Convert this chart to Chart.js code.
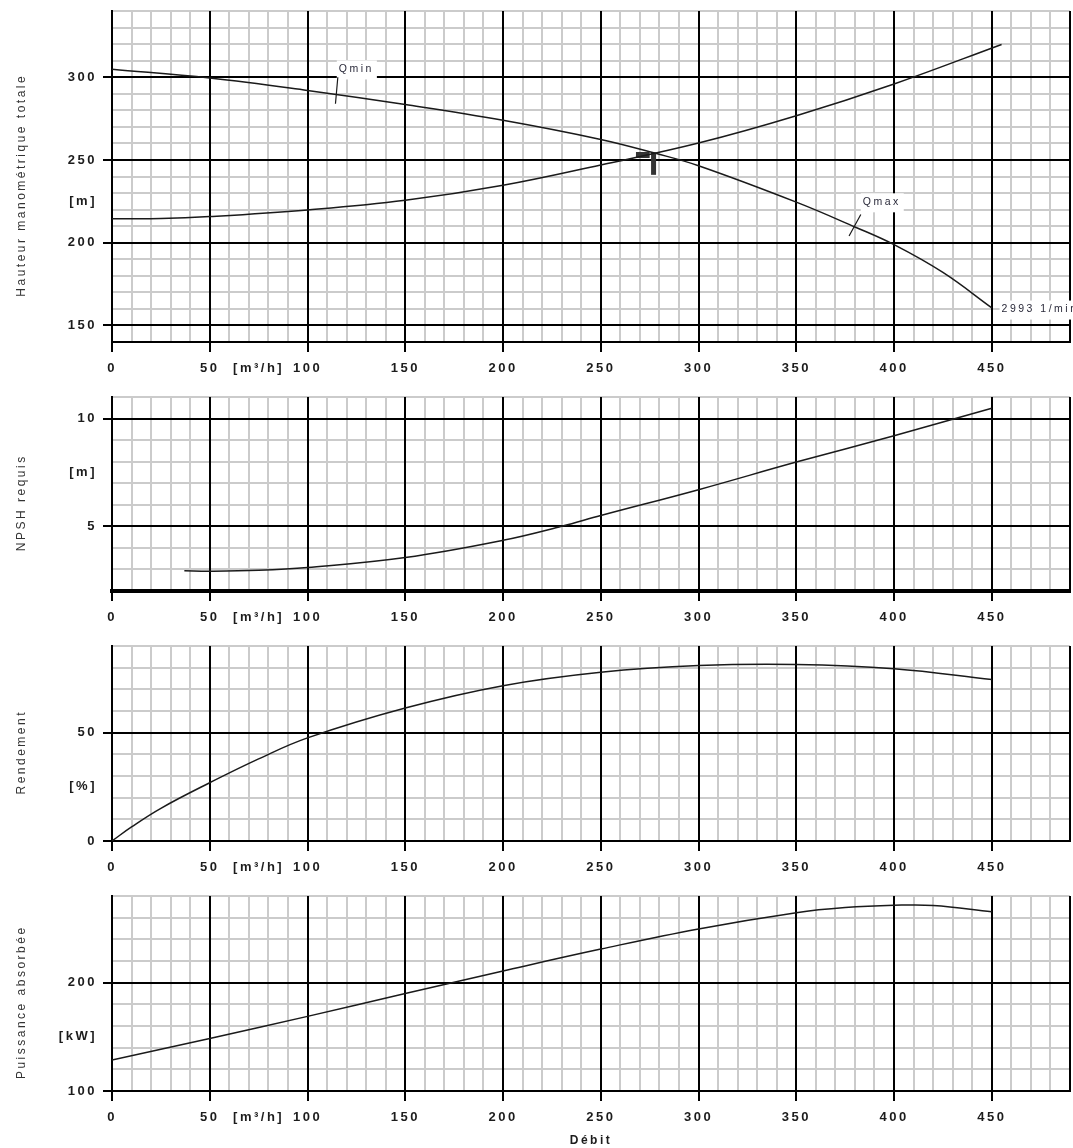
<!DOCTYPE html>
<html>
<head>
<meta charset="utf-8">
<script src="https://cdn.jsdelivr.net/npm/chart.js@4.4.1/dist/chart.umd.min.js"></script>
<style>
    body { margin: 0; background: #fff; }
    #wrap { position: relative; width: 1073px; height: 1148px; }
    canvas { position: absolute; left: 0; }
</style>
</head>
<body>
<div id="wrap">
    <canvas id="hmtChart" width="1073" height="380" style="top:0px"></canvas>
    <canvas id="npshChart" width="1073" height="244" style="top:385px"></canvas>
    <canvas id="effChart" width="1073" height="245" style="top:634px"></canvas>
    <canvas id="powerChart" width="1073" height="264" style="top:884px"></canvas>
</div>
<script>
// debit axis (m3/h)
const debitMin = 0;
const debitMax = 490;
const debitLabelValues = [0, 50, 75, 100, 150, 200, 250, 300, 350, 400, 450];
const debitLabelTexts = ['0', '50', '[m³/h]', '100', '150', '200', '250', '300', '350', '400', '450'];
const debitMajorLines = [0, 50, 100, 150, 200, 250, 300, 350, 400, 450, 490];
const debitTickMarks = [0, 50, 100, 150, 200, 250, 300, 350, 400, 450];

// Hauteur manometrique totale
const hmtPumpQ = [0, 50, 100, 150, 200, 250, 278, 300, 350, 380, 400, 425, 450];
const hmtPumpH = [304.8, 299.5, 292.0, 283.5, 274.0, 262.4, 254.0, 246.5, 224.5, 209.5, 198.8, 182.0, 160.6];
const hmtSystemQ = [0, 25, 50, 100, 150, 200, 250, 300, 350, 400, 455];
const hmtSystemH = [214.5, 214.6, 215.8, 219.8, 225.6, 234.7, 247.0, 260.2, 276.7, 295.9, 319.8];
const qminLeaderQ = [115.5, 114.3];
const qminLeaderH = [300, 284];
const qmaxLeaderQ = [383, 377];
const qmaxLeaderH = [217, 204];
const markerBarQ = [268, 275];
const markerBarH = [253, 253];
const markerStemQ = [277, 277];
const markerStemH = [254.5, 241];
const hmtLabelTexts = ['Qmin', 'Qmax', '2993 1/min'];
const hmtLabelQ = [116, 384, 455];
const hmtLabelH = [304.7, 224.4, 159.6];
const hmtYLabelValues = [150, 200, 225, 250, 300];
const hmtYLabelTexts = ['150', '200', '[m]', '250', '300'];
const hmtYMajor = [150, 200, 250, 300];

// NPSH requis
const npshQ = [37, 50, 75, 100, 150, 200, 230, 250, 300, 350, 400, 450];
const npshM = [2.94, 2.92, 2.96, 3.09, 3.55, 4.35, 5.0, 5.5, 6.7, 7.98, 9.2, 10.48];
const npshYLabelValues = [5, 7.5, 10];
const npshYLabelTexts = ['5', '[m]', '10'];
const npshYMajor = [5, 10];

// Rendement
const effQ = [0, 10, 25, 50, 75, 100, 150, 200, 250, 300, 350, 400, 450];
const effPct = [0, 6.5, 15.1, 26.9, 37.9, 47.6, 61.4, 71.7, 77.9, 81.0, 81.5, 79.5, 74.5];
const effYLabelValues = [0, 25, 50];
const effYLabelTexts = ['0', '[%]', '50'];
const effYMajor = [0, 50];

// Puissance absorbee
const powerQ = [0, 50, 100, 150, 200, 250, 300, 350, 375, 400, 420, 450];
const powerKW = [128.6, 148.5, 168.9, 190, 210.8, 231, 249.6, 264.6, 269.3, 271.4, 271.3, 265.4];
const powerYLabelValues = [100, 150, 200];
const powerYLabelTexts = ['100', '[kW]', '200'];
const powerYMajor = [100, 200];

const MAJOR = '#000000';
const MINOR = '#cbcbcb';
const NONE = 'rgba(0,0,0,0)';
const FAMILY = '"Liberation Sans", Arial, sans-serif';

function range(min, max, step) {
    const out = [];
    for (let v = min; v <= max + 1e-9; v += step) out.push(Math.round(v * 1000) / 1000);
    return out;
}

function toPoints(xs, ys) {
    return xs.map((x, i) => ({ x: x, y: ys[i] }));
}

function curve(xs, ys, width, color) {
    return {
        data: toPoints(xs, ys),
        borderColor: color || '#1a1a1a',
        borderWidth: width || 1.5,
        pointRadius: 0,
        fill: false,
        tension: 0.4
    };
}

// letter spaced text like the printed curve sheet
const spacing = {
    id: 'spacing',
    beforeDraw(chart) {
        chart.ctx.letterSpacing = '2.5px';
    }
};

const textLabels = {
    id: 'textLabels',
    beforeDatasetsDraw(chart, args, opts) {
        const items = opts.items || [];
        const ctx = chart.ctx;
        ctx.save();
        ctx.font = '10.5px ' + FAMILY;
        ctx.textBaseline = 'middle';
        ctx.textAlign = 'left';
        items.forEach(item => {
            const x = chart.scales.x.getPixelForValue(item.q);
            const y = chart.scales.y.getPixelForValue(item.h);
            const w = ctx.measureText(item.text).width;
            ctx.fillStyle = '#ffffff';
            ctx.fillRect(x - 2, y - 9, w + 5, 19);
            ctx.fillStyle = '#2a2a3a';
            ctx.fillText(item.text, x, y);
        });
        ctx.restore();
    }
};

function makePanel(canvasId, padTop, xAxisHeight, yOpts, datasets, labelItems, showDebitTitle, axisWidth) {
    const yTicks = Array.from(new Set(yOpts.labelValues.concat(yOpts.major))).sort((a, b) => a - b);
    const config = {
        type: 'line',
        data: { datasets: datasets },
        plugins: [spacing, textLabels],
        options: {
            responsive: false,
            animation: false,
            events: [],
            layout: { padding: { left: 0, right: 3, top: padTop, bottom: 0 } },
            plugins: {
                legend: { display: false },
                tooltip: { enabled: false },
                textLabels: { items: labelItems }
            },
            scales: {
                xm: {
                    type: 'linear', position: 'bottom', min: debitMin, max: debitMax,
                    afterBuildTicks: (scale) => { scale.ticks = range(debitMin, debitMax, 10).map(v => ({ value: v })); },
                    afterFit: (scale) => { scale.height = 0; scale.paddingLeft = 0; scale.paddingRight = 0; },
                    ticks: { display: false },
                    grid: { color: MINOR, lineWidth: 2, drawTicks: false, z: -2 },
                    border: { display: false }
                },
                ym: {
                    type: 'linear', position: 'left', min: yOpts.min, max: yOpts.max,
                    afterBuildTicks: (scale) => { scale.ticks = range(yOpts.min, yOpts.max, yOpts.step).map(v => ({ value: v })); },
                    afterFit: (scale) => { scale.width = 0; scale.paddingTop = 0; scale.paddingBottom = 0; },
                    ticks: { display: false },
                    grid: { color: MINOR, lineWidth: 2, drawTicks: false, z: -2 },
                    border: { display: false }
                },
                x: {
                    type: 'linear', position: 'bottom', min: debitMin, max: debitMax,
                    afterBuildTicks: (scale) => {
                        const vals = Array.from(new Set(debitLabelValues.concat(debitMajorLines))).sort((a, b) => a - b);
                        scale.ticks = vals.map(v => ({ value: v }));
                    },
                    afterFit: (scale) => { scale.height = xAxisHeight; scale.paddingLeft = 0; scale.paddingRight = 0; },
                    ticks: {
                        autoSkip: false, maxRotation: 0, padding: 9, color: '#1c1c1c',
                        font: { family: FAMILY, size: 13, weight: 'bold' },
                        callback: (value) => {
                            const i = debitLabelValues.indexOf(value);
                            return i >= 0 ? debitLabelTexts[i] : '';
                        }
                    },
                    grid: {
                        lineWidth: 2, tickLength: 10, tickWidth: 2, z: -1,
                        color: (ctx) => ctx.tick && debitMajorLines.includes(ctx.tick.value) ? MAJOR : NONE,
                        tickColor: (ctx) => ctx.tick && debitTickMarks.includes(ctx.tick.value) ? MAJOR : NONE
                    },
                    border: { display: true, color: MAJOR, width: axisWidth || 2 },
                    title: {
                        display: !!showDebitTitle, text: 'Débit', color: '#1c1c1c',
                        font: { family: FAMILY, size: 12, weight: 'bold' },
                        padding: { top: 0, bottom: 0 }
                    }
                },
                y: {
                    type: 'linear', position: 'left', min: yOpts.min, max: yOpts.max,
                    afterBuildTicks: (scale) => { scale.ticks = yTicks.map(v => ({ value: v })); },
                    afterFit: (scale) => { scale.width = 112; scale.paddingTop = 0; scale.paddingBottom = 0; },
                    ticks: {
                        padding: 6, color: '#1c1c1c',
                        font: { family: FAMILY, size: 13, weight: 'bold' },
                        callback: (value) => {
                            const i = yOpts.labelValues.indexOf(value);
                            return i >= 0 ? yOpts.labelTexts[i] : '';
                        }
                    },
                    grid: {
                        lineWidth: 2, tickLength: 9, tickWidth: 2, z: -1,
                        color: (ctx) => ctx.tick && yOpts.major.includes(ctx.tick.value) ? MAJOR : NONE,
                        tickColor: (ctx) => ctx.tick && yOpts.major.includes(ctx.tick.value) ? MAJOR : NONE
                    },
                    border: { display: true, color: MAJOR, width: 2 },
                    title: {
                        // trailing spaces push the rotated title a little lower, as on the sheet
                        display: true, text: yOpts.title + '   ', color: '#333',
                        font: { family: FAMILY, size: 12 },
                        padding: { top: 14, bottom: 0 }
                    }
                }
            }
        }
    };
    return new Chart(document.getElementById(canvasId).getContext('2d'), config);
}

const hmtLabels = hmtLabelTexts.map((t, i) => ({ text: t, q: hmtLabelQ[i], h: hmtLabelH[i] }));

makePanel('hmtChart', 11, 38, {
    min: 140, max: 340, step: 10, major: hmtYMajor,
    labelValues: hmtYLabelValues, labelTexts: hmtYLabelTexts,
    title: 'Hauteur manométrique totale'
}, [
    curve(hmtPumpQ, hmtPumpH),
    curve(hmtSystemQ, hmtSystemH),
    curve(qminLeaderQ, qminLeaderH, 1.2),
    curve(qmaxLeaderQ, qmaxLeaderH, 1.2),
    curve(markerBarQ, markerBarH, 6, '#333'),
    curve(markerStemQ, markerStemH, 5, '#333')
], hmtLabels, false);

makePanel('npshChart', 12, 38, {
    min: 2, max: 11, step: 1, major: npshYMajor,
    labelValues: npshYLabelValues, labelTexts: npshYLabelTexts,
    title: 'NPSH requis'
}, [curve(npshQ, npshM)], [], false, 4);

makePanel('effChart', 12, 38, {
    min: 0, max: 90, step: 10, major: effYMajor,
    labelValues: effYLabelValues, labelTexts: effYLabelTexts,
    title: 'Rendement'
}, [curve(effQ, effPct)], [], false);

makePanel('powerChart', 12, 57, {
    min: 100, max: 280, step: 20, major: powerYMajor,
    labelValues: powerYLabelValues, labelTexts: powerYLabelTexts,
    title: 'Puissance absorbée'
}, [curve(powerQ, powerKW)], [], true);
</script>
</body>
</html>
